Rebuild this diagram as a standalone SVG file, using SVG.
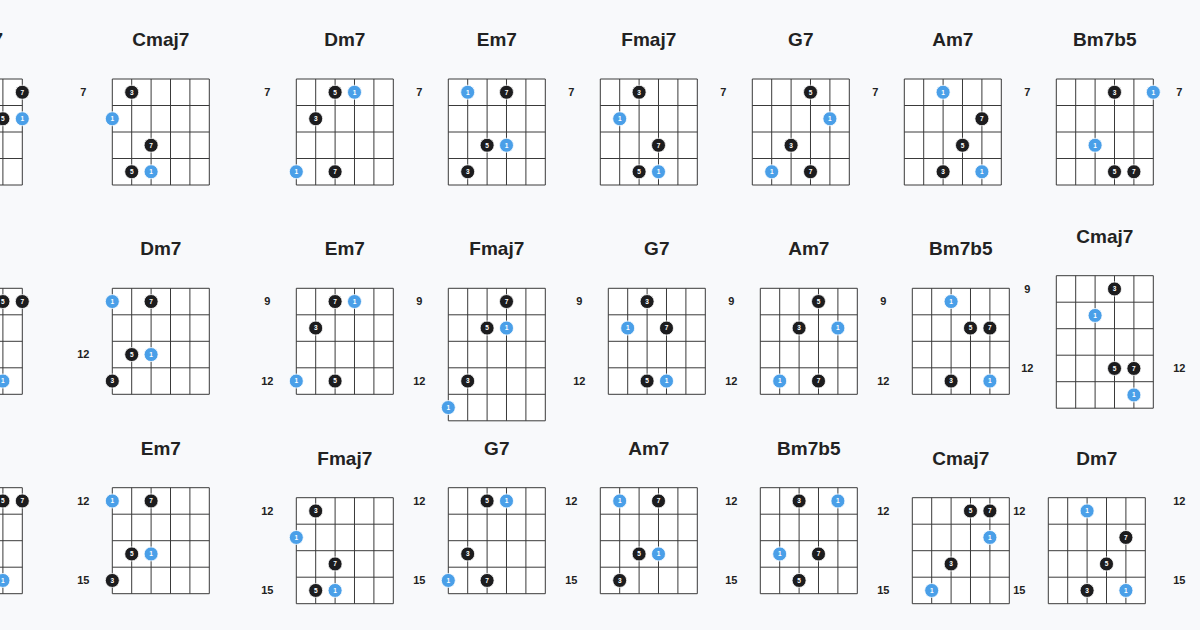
<svg xmlns="http://www.w3.org/2000/svg" xmlns:xlink="http://www.w3.org/1999/xlink" width="1200" height="630" viewBox="0 0 1200 630">
<style>
.title{font-family:"Liberation Sans",Arial,sans-serif;font-weight:700;font-size:19px;fill:#222;text-anchor:middle}
.fl{font-family:"Liberation Sans",Arial,sans-serif;font-weight:700;font-size:11px;fill:#222;text-anchor:middle}
.k{fill:#1c1c1e;stroke:#fff;stroke-width:0.8}
.b{fill:#4a9fe8;stroke:#fff;stroke-width:0.8}
.dt{font-family:"Liberation Sans",Arial,sans-serif;font-weight:700;font-size:6.5px;fill:#fff;text-anchor:middle}
.gl{stroke:#3a3a3a;stroke-width:1;fill:none}
</style>
<defs>
<g id="g4"><rect width="97" height="106" fill="#fff"/><path class="gl" d="M0 0V106M19.4 0V106M38.8 0V106M58.2 0V106M77.6 0V106M97 0V106M0 0H97M0 26.5H97M0 53H97M0 79.5H97M0 106H97"/></g>
<g id="g5"><rect width="97" height="132.5" fill="#fff"/><path class="gl" d="M0 0V132.5M19.4 0V132.5M38.8 0V132.5M58.2 0V132.5M77.6 0V132.5M97 0V132.5M0 0H97M0 26.5H97M0 53H97M0 79.5H97M0 106H97M0 132.5H97"/></g>
</defs>
<rect width="1200" height="630" fill="#f8f9fb"/>

<!-- Row 1 -->
<g id="r1-partial" transform="translate(-74.7,79)">
<use xlink:href="#g4"/>
<text class="title" x="77.7" y="-33.2" style="text-anchor:end">Cmaj7</text>
<circle class="k" cx="97" cy="13.25" r="7"/><text class="dt" x="97" y="15.55">7</text>
<circle class="k" cx="77.6" cy="39.75" r="7"/><text class="dt" x="77.6" y="42.05">5</text>
<circle class="b" cx="97" cy="39.75" r="7"/><text class="dt" x="97" y="42.05">1</text>
</g>
<g id="r1-cmaj7" transform="translate(112.3,79)">
<use xlink:href="#g4"/>
<text class="title" x="48.5" y="-33.2">Cmaj7</text>
<text class="fl" x="-29" y="17.05">7</text>
<circle class="k" cx="19.4" cy="13.25" r="7"/><text class="dt" x="19.4" y="15.55">3</text>
<circle class="b" cx="0" cy="39.75" r="7"/><text class="dt" x="0" y="42.05">1</text>
<circle class="k" cx="38.8" cy="66.25" r="7"/><text class="dt" x="38.8" y="68.55">7</text>
<circle class="k" cx="19.4" cy="92.75" r="7"/><text class="dt" x="19.4" y="95.05">5</text>
<circle class="b" cx="38.8" cy="92.75" r="7"/><text class="dt" x="38.8" y="95.05">1</text>
</g>
<g id="r1-dm7" transform="translate(296.3,79)">
<use xlink:href="#g4"/>
<text class="title" x="48.5" y="-33.2">Dm7</text>
<text class="fl" x="-29" y="17.05">7</text>
<circle class="k" cx="38.8" cy="13.25" r="7"/><text class="dt" x="38.8" y="15.55">5</text>
<circle class="b" cx="58.2" cy="13.25" r="7"/><text class="dt" x="58.2" y="15.55">1</text>
<circle class="k" cx="19.4" cy="39.75" r="7"/><text class="dt" x="19.4" y="42.05">3</text>
<circle class="b" cx="0" cy="92.75" r="7"/><text class="dt" x="0" y="95.05">1</text>
<circle class="k" cx="38.8" cy="92.75" r="7"/><text class="dt" x="38.8" y="95.05">7</text>
</g>
<g id="r1-em7" transform="translate(448.3,79)">
<use xlink:href="#g4"/>
<text class="title" x="48.5" y="-33.2">Em7</text>
<text class="fl" x="-29" y="17.05">7</text>
<circle class="b" cx="19.4" cy="13.25" r="7"/><text class="dt" x="19.4" y="15.55">1</text>
<circle class="k" cx="58.2" cy="13.25" r="7"/><text class="dt" x="58.2" y="15.55">7</text>
<circle class="k" cx="38.8" cy="66.25" r="7"/><text class="dt" x="38.8" y="68.55">5</text>
<circle class="b" cx="58.2" cy="66.25" r="7"/><text class="dt" x="58.2" y="68.55">1</text>
<circle class="k" cx="19.4" cy="92.75" r="7"/><text class="dt" x="19.4" y="95.05">3</text>
</g>
<g id="r1-fmaj7" transform="translate(600.3,79)">
<use xlink:href="#g4"/>
<text class="title" x="48.5" y="-33.2">Fmaj7</text>
<text class="fl" x="-29" y="17.05">7</text>
<circle class="k" cx="38.8" cy="13.25" r="7"/><text class="dt" x="38.8" y="15.55">3</text>
<circle class="b" cx="19.4" cy="39.75" r="7"/><text class="dt" x="19.4" y="42.05">1</text>
<circle class="k" cx="58.2" cy="66.25" r="7"/><text class="dt" x="58.2" y="68.55">7</text>
<circle class="k" cx="38.8" cy="92.75" r="7"/><text class="dt" x="38.8" y="95.05">5</text>
<circle class="b" cx="58.2" cy="92.75" r="7"/><text class="dt" x="58.2" y="95.05">1</text>
</g>
<g id="r1-g7" transform="translate(752.3,79)">
<use xlink:href="#g4"/>
<text class="title" x="48.5" y="-33.2">G7</text>
<text class="fl" x="-29" y="17.05">7</text>
<circle class="k" cx="58.2" cy="13.25" r="7"/><text class="dt" x="58.2" y="15.55">5</text>
<circle class="b" cx="77.6" cy="39.75" r="7"/><text class="dt" x="77.6" y="42.05">1</text>
<circle class="k" cx="38.8" cy="66.25" r="7"/><text class="dt" x="38.8" y="68.55">3</text>
<circle class="b" cx="19.4" cy="92.75" r="7"/><text class="dt" x="19.4" y="95.05">1</text>
<circle class="k" cx="58.2" cy="92.75" r="7"/><text class="dt" x="58.2" y="95.05">7</text>
</g>
<g id="r1-am7" transform="translate(904.3,79)">
<use xlink:href="#g4"/>
<text class="title" x="48.5" y="-33.2">Am7</text>
<text class="fl" x="-29" y="17.05">7</text>
<circle class="b" cx="38.8" cy="13.25" r="7"/><text class="dt" x="38.8" y="15.55">1</text>
<circle class="k" cx="77.6" cy="39.75" r="7"/><text class="dt" x="77.6" y="42.05">7</text>
<circle class="k" cx="58.2" cy="66.25" r="7"/><text class="dt" x="58.2" y="68.55">5</text>
<circle class="k" cx="38.8" cy="92.75" r="7"/><text class="dt" x="38.8" y="95.05">3</text>
<circle class="b" cx="77.6" cy="92.75" r="7"/><text class="dt" x="77.6" y="95.05">1</text>
</g>
<g id="r1-bm7b5" transform="translate(1056.3,79)">
<use xlink:href="#g4"/>
<text class="title" x="48.5" y="-33.2">Bm7b5</text>
<text class="fl" x="-29" y="17.05">7</text>
<circle class="k" cx="58.2" cy="13.25" r="7"/><text class="dt" x="58.2" y="15.55">3</text>
<circle class="b" cx="97" cy="13.25" r="7"/><text class="dt" x="97" y="15.55">1</text>
<circle class="b" cx="38.8" cy="66.25" r="7"/><text class="dt" x="38.8" y="68.55">1</text>
<circle class="k" cx="58.2" cy="92.75" r="7"/><text class="dt" x="58.2" y="95.05">5</text>
<circle class="k" cx="77.6" cy="92.75" r="7"/><text class="dt" x="77.6" y="95.05">7</text>
</g>
<g id="r1-next" transform="translate(1208.3,79)">
<text class="fl" x="-29" y="17.05">7</text>
</g>

<!-- Row 2 -->
<g id="r2-partial" transform="translate(-74.7,288.3)">
<use xlink:href="#g4"/>
<circle class="k" cx="77.6" cy="13.25" r="7"/><text class="dt" x="77.6" y="15.55">5</text>
<circle class="k" cx="97" cy="13.25" r="7"/><text class="dt" x="97" y="15.55">7</text>
<circle class="b" cx="77.6" cy="92.75" r="7"/><text class="dt" x="77.6" y="95.05">1</text>
</g>
<g id="r2-dm7" transform="translate(112.3,288.3)">
<use xlink:href="#g4"/>
<text class="title" x="48.5" y="-33.2">Dm7</text>
<text class="fl" x="-29" y="70.05">12</text>
<circle class="b" cx="0" cy="13.25" r="7"/><text class="dt" x="0" y="15.55">1</text>
<circle class="k" cx="38.8" cy="13.25" r="7"/><text class="dt" x="38.8" y="15.55">7</text>
<circle class="k" cx="19.4" cy="66.25" r="7"/><text class="dt" x="19.4" y="68.55">5</text>
<circle class="b" cx="38.8" cy="66.25" r="7"/><text class="dt" x="38.8" y="68.55">1</text>
<circle class="k" cx="0" cy="92.75" r="7"/><text class="dt" x="0" y="95.05">3</text>
</g>
<g id="r2-em7" transform="translate(296.3,288.3)">
<use xlink:href="#g4"/>
<text class="title" x="48.5" y="-33.2">Em7</text>
<text class="fl" x="-29" y="17.05">9</text>
<text class="fl" x="-29" y="96.55">12</text>
<circle class="k" cx="38.8" cy="13.25" r="7"/><text class="dt" x="38.8" y="15.55">7</text>
<circle class="b" cx="58.2" cy="13.25" r="7"/><text class="dt" x="58.2" y="15.55">1</text>
<circle class="k" cx="19.4" cy="39.75" r="7"/><text class="dt" x="19.4" y="42.05">3</text>
<circle class="b" cx="0" cy="92.75" r="7"/><text class="dt" x="0" y="95.05">1</text>
<circle class="k" cx="38.8" cy="92.75" r="7"/><text class="dt" x="38.8" y="95.05">5</text>
</g>
<g id="r2-fmaj7" transform="translate(448.3,288.3)">
<use xlink:href="#g5"/>
<text class="title" x="48.5" y="-33.2">Fmaj7</text>
<text class="fl" x="-29" y="17.05">9</text>
<text class="fl" x="-29" y="96.55">12</text>
<circle class="k" cx="58.2" cy="13.25" r="7"/><text class="dt" x="58.2" y="15.55">7</text>
<circle class="k" cx="38.8" cy="39.75" r="7"/><text class="dt" x="38.8" y="42.05">5</text>
<circle class="b" cx="58.2" cy="39.75" r="7"/><text class="dt" x="58.2" y="42.05">1</text>
<circle class="k" cx="19.4" cy="92.75" r="7"/><text class="dt" x="19.4" y="95.05">3</text>
<circle class="b" cx="0" cy="119.25" r="7"/><text class="dt" x="0" y="121.55">1</text>
</g>
<g id="r2-g7" transform="translate(608.3,288.3)">
<use xlink:href="#g4"/>
<text class="title" x="48.5" y="-33.2">G7</text>
<text class="fl" x="-29" y="17.05">9</text>
<text class="fl" x="-29" y="96.55">12</text>
<circle class="k" cx="38.8" cy="13.25" r="7"/><text class="dt" x="38.8" y="15.55">3</text>
<circle class="b" cx="19.4" cy="39.75" r="7"/><text class="dt" x="19.4" y="42.05">1</text>
<circle class="k" cx="58.2" cy="39.75" r="7"/><text class="dt" x="58.2" y="42.05">7</text>
<circle class="k" cx="38.8" cy="92.75" r="7"/><text class="dt" x="38.8" y="95.05">5</text>
<circle class="b" cx="58.2" cy="92.75" r="7"/><text class="dt" x="58.2" y="95.05">1</text>
</g>
<g id="r2-am7" transform="translate(760.3,288.3)">
<use xlink:href="#g4"/>
<text class="title" x="48.5" y="-33.2">Am7</text>
<text class="fl" x="-29" y="17.05">9</text>
<text class="fl" x="-29" y="96.55">12</text>
<circle class="k" cx="58.2" cy="13.25" r="7"/><text class="dt" x="58.2" y="15.55">5</text>
<circle class="k" cx="38.8" cy="39.75" r="7"/><text class="dt" x="38.8" y="42.05">3</text>
<circle class="b" cx="77.6" cy="39.75" r="7"/><text class="dt" x="77.6" y="42.05">1</text>
<circle class="b" cx="19.4" cy="92.75" r="7"/><text class="dt" x="19.4" y="95.05">1</text>
<circle class="k" cx="58.2" cy="92.75" r="7"/><text class="dt" x="58.2" y="95.05">7</text>
</g>
<g id="r2-bm7b5" transform="translate(912.3,288.3)">
<use xlink:href="#g4"/>
<text class="title" x="48.5" y="-33.2">Bm7b5</text>
<text class="fl" x="-29" y="17.05">9</text>
<text class="fl" x="-29" y="96.55">12</text>
<circle class="b" cx="38.8" cy="13.25" r="7"/><text class="dt" x="38.8" y="15.55">1</text>
<circle class="k" cx="58.2" cy="39.75" r="7"/><text class="dt" x="58.2" y="42.05">5</text>
<circle class="k" cx="77.6" cy="39.75" r="7"/><text class="dt" x="77.6" y="42.05">7</text>
<circle class="k" cx="38.8" cy="92.75" r="7"/><text class="dt" x="38.8" y="95.05">3</text>
<circle class="b" cx="77.6" cy="92.75" r="7"/><text class="dt" x="77.6" y="95.05">1</text>
</g>
<g id="r2-cmaj7" transform="translate(1056.3,275.7)">
<use xlink:href="#g5"/>
<text class="title" x="48.5" y="-33.2">Cmaj7</text>
<text class="fl" x="-29" y="17.05">9</text>
<text class="fl" x="-29" y="96.55">12</text>
<circle class="k" cx="58.2" cy="13.25" r="7"/><text class="dt" x="58.2" y="15.55">3</text>
<circle class="b" cx="38.8" cy="39.75" r="7"/><text class="dt" x="38.8" y="42.05">1</text>
<circle class="k" cx="58.2" cy="92.75" r="7"/><text class="dt" x="58.2" y="95.05">5</text>
<circle class="k" cx="77.6" cy="92.75" r="7"/><text class="dt" x="77.6" y="95.05">7</text>
<circle class="b" cx="77.6" cy="119.25" r="7"/><text class="dt" x="77.6" y="121.55">1</text>
</g>
<g id="r2-next" transform="translate(1208.3,275.7)">
<text class="fl" x="-29" y="96.55">12</text>
</g>

<!-- Row 3 -->
<g id="r3-partial" transform="translate(-74.7,487.7)">
<use xlink:href="#g4"/>
<circle class="k" cx="77.6" cy="13.25" r="7"/><text class="dt" x="77.6" y="15.55">5</text>
<circle class="k" cx="97" cy="13.25" r="7"/><text class="dt" x="97" y="15.55">7</text>
<circle class="b" cx="77.6" cy="92.75" r="7"/><text class="dt" x="77.6" y="95.05">1</text>
</g>
<g id="r3-em7" transform="translate(112.3,487.7)">
<use xlink:href="#g4"/>
<text class="title" x="48.5" y="-33.2">Em7</text>
<text class="fl" x="-29" y="17.05">12</text>
<text class="fl" x="-29" y="96.55">15</text>
<circle class="b" cx="0" cy="13.25" r="7"/><text class="dt" x="0" y="15.55">1</text>
<circle class="k" cx="38.8" cy="13.25" r="7"/><text class="dt" x="38.8" y="15.55">7</text>
<circle class="k" cx="19.4" cy="66.25" r="7"/><text class="dt" x="19.4" y="68.55">5</text>
<circle class="b" cx="38.8" cy="66.25" r="7"/><text class="dt" x="38.8" y="68.55">1</text>
<circle class="k" cx="0" cy="92.75" r="7"/><text class="dt" x="0" y="95.05">3</text>
</g>
<g id="r3-fmaj7" transform="translate(296.3,497.7)">
<use xlink:href="#g4"/>
<text class="title" x="48.5" y="-33.2">Fmaj7</text>
<text class="fl" x="-29" y="17.05">12</text>
<text class="fl" x="-29" y="96.55">15</text>
<circle class="k" cx="19.4" cy="13.25" r="7"/><text class="dt" x="19.4" y="15.55">3</text>
<circle class="b" cx="0" cy="39.75" r="7"/><text class="dt" x="0" y="42.05">1</text>
<circle class="k" cx="38.8" cy="66.25" r="7"/><text class="dt" x="38.8" y="68.55">7</text>
<circle class="k" cx="19.4" cy="92.75" r="7"/><text class="dt" x="19.4" y="95.05">5</text>
<circle class="b" cx="38.8" cy="92.75" r="7"/><text class="dt" x="38.8" y="95.05">1</text>
</g>
<g id="r3-g7" transform="translate(448.3,487.7)">
<use xlink:href="#g4"/>
<text class="title" x="48.5" y="-33.2">G7</text>
<text class="fl" x="-29" y="17.05">12</text>
<text class="fl" x="-29" y="96.55">15</text>
<circle class="k" cx="38.8" cy="13.25" r="7"/><text class="dt" x="38.8" y="15.55">5</text>
<circle class="b" cx="58.2" cy="13.25" r="7"/><text class="dt" x="58.2" y="15.55">1</text>
<circle class="k" cx="19.4" cy="66.25" r="7"/><text class="dt" x="19.4" y="68.55">3</text>
<circle class="b" cx="0" cy="92.75" r="7"/><text class="dt" x="0" y="95.05">1</text>
<circle class="k" cx="38.8" cy="92.75" r="7"/><text class="dt" x="38.8" y="95.05">7</text>
</g>
<g id="r3-am7" transform="translate(600.3,487.7)">
<use xlink:href="#g4"/>
<text class="title" x="48.5" y="-33.2">Am7</text>
<text class="fl" x="-29" y="17.05">12</text>
<text class="fl" x="-29" y="96.55">15</text>
<circle class="b" cx="19.4" cy="13.25" r="7"/><text class="dt" x="19.4" y="15.55">1</text>
<circle class="k" cx="58.2" cy="13.25" r="7"/><text class="dt" x="58.2" y="15.55">7</text>
<circle class="k" cx="38.8" cy="66.25" r="7"/><text class="dt" x="38.8" y="68.55">5</text>
<circle class="b" cx="58.2" cy="66.25" r="7"/><text class="dt" x="58.2" y="68.55">1</text>
<circle class="k" cx="19.4" cy="92.75" r="7"/><text class="dt" x="19.4" y="95.05">3</text>
</g>
<g id="r3-bm7b5" transform="translate(760.3,487.7)">
<use xlink:href="#g4"/>
<text class="title" x="48.5" y="-33.2">Bm7b5</text>
<text class="fl" x="-29" y="17.05">12</text>
<text class="fl" x="-29" y="96.55">15</text>
<circle class="k" cx="38.8" cy="13.25" r="7"/><text class="dt" x="38.8" y="15.55">3</text>
<circle class="b" cx="77.6" cy="13.25" r="7"/><text class="dt" x="77.6" y="15.55">1</text>
<circle class="b" cx="19.4" cy="66.25" r="7"/><text class="dt" x="19.4" y="68.55">1</text>
<circle class="k" cx="58.2" cy="66.25" r="7"/><text class="dt" x="58.2" y="68.55">7</text>
<circle class="k" cx="38.8" cy="92.75" r="7"/><text class="dt" x="38.8" y="95.05">5</text>
</g>
<g id="r3-cmaj7" transform="translate(912.3,497.7)">
<use xlink:href="#g4"/>
<text class="title" x="48.5" y="-33.2">Cmaj7</text>
<text class="fl" x="-29" y="17.05">12</text>
<text class="fl" x="-29" y="96.55">15</text>
<circle class="k" cx="58.2" cy="13.25" r="7"/><text class="dt" x="58.2" y="15.55">5</text>
<circle class="k" cx="77.6" cy="13.25" r="7"/><text class="dt" x="77.6" y="15.55">7</text>
<circle class="b" cx="77.6" cy="39.75" r="7"/><text class="dt" x="77.6" y="42.05">1</text>
<circle class="k" cx="38.8" cy="66.25" r="7"/><text class="dt" x="38.8" y="68.55">3</text>
<circle class="b" cx="19.4" cy="92.75" r="7"/><text class="dt" x="19.4" y="95.05">1</text>
</g>
<g id="r3-dm7" transform="translate(1048.3,497.7)">
<use xlink:href="#g4"/>
<text class="title" x="48.5" y="-33.2">Dm7</text>
<text class="fl" x="-29" y="17.05">12</text>
<text class="fl" x="-29" y="96.55">15</text>
<circle class="b" cx="38.8" cy="13.25" r="7"/><text class="dt" x="38.8" y="15.55">1</text>
<circle class="k" cx="77.6" cy="39.75" r="7"/><text class="dt" x="77.6" y="42.05">7</text>
<circle class="k" cx="58.2" cy="66.25" r="7"/><text class="dt" x="58.2" y="68.55">5</text>
<circle class="k" cx="38.8" cy="92.75" r="7"/><text class="dt" x="38.8" y="95.05">3</text>
<circle class="b" cx="77.6" cy="92.75" r="7"/><text class="dt" x="77.6" y="95.05">1</text>
</g>
<g id="r3-next" transform="translate(1208.3,487.7)">
<text class="fl" x="-29" y="17.05">12</text>
<text class="fl" x="-29" y="96.55">15</text>
</g>
<g id="connectors"/>
</svg>
